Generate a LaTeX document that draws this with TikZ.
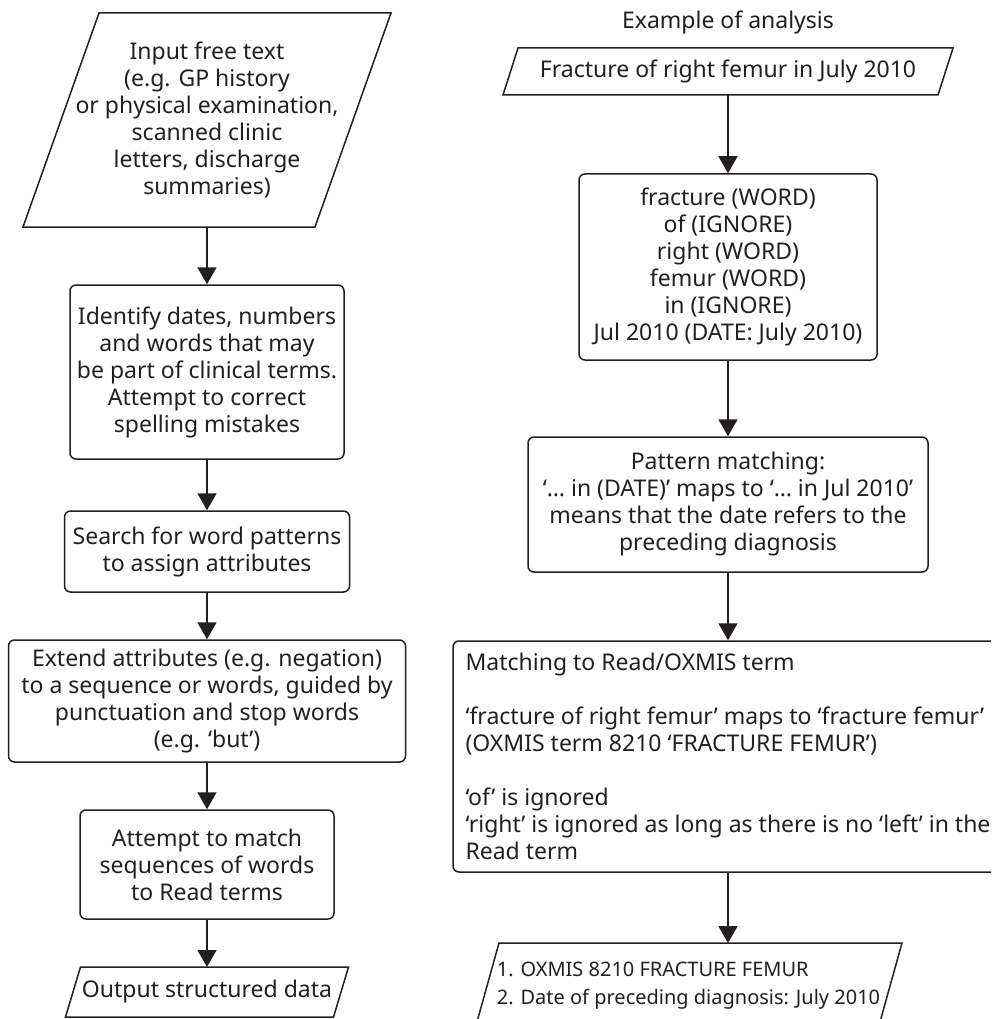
\documentclass[tikz,border=0pt]{standalone}
\usepackage{fontspec}
\setmainfont{Noto Sans}
\usetikzlibrary{arrows.meta,calc}
\definecolor{ink}{HTML}{231F20}
\newcommand\drawpara[2]{\draw[pline] ($(#1.north west)+(#2/2,0)$) -- ($(#1.north east)+(#2/2,0)$) -- ($(#1.south east)-(#2/2,0)$) -- ($(#1.south west)-(#2/2,0)$) -- cycle;}
\begin{document}
\begin{tikzpicture}[x=1pt,y=-1pt,
  every node/.style={font=\fontsize{23}{27}\selectfont, text=ink},
  box/.style={draw=ink, line width=1.5pt, rounded corners=6pt, align=center, inner sep=0pt},
  pbox/.style={align=center, inner sep=0pt, outer sep=0pt},
  arr/.style={draw=ink, line width=1.5pt, -{Triangle[length=17pt,width=19pt]}},
  pline/.style={draw=ink, line width=1.5pt, line join=miter}
]
\useasboundingbox (0,0) rectangle (991,1019);
\clip (0,0) rectangle (991,1019);

% left column
\node[pbox, minimum width=292pt, minimum height=214pt] (l1) at (207,120)
  {Input free text\\(e.g. GP history\\or physical examination,\\scanned clinic\\letters, discharge\\summaries)};
\drawpara{l1}{76}
\node[box, minimum width=274pt, minimum height=174pt] (l2) at (207,372)
  {Identify dates, numbers\\and words that may\\be part of clinical terms.\\Attempt to correct\\spelling mistakes};
\node[box, minimum width=285pt, minimum height=81pt] (l3) at (207,551.5)
  {Search for word patterns\\to assign attributes};
\node[box, minimum width=397pt, minimum height=122pt] (l4) at (207,701)
  {Extend attributes (e.g. negation)\\to a sequence or words, guided by\\punctuation and stop words\\(e.g. ‘but’)};
\node[box, minimum width=254pt, minimum height=109pt] (l5) at (207,864.5)
  {Attempt to match\\sequences of words\\to Read terms};
\node[pbox, minimum width=268pt, minimum height=50pt] (l6) at (207,992)
  {Output structured data};
\drawpara{l6}{15}

\draw[arr] (l1.south) -- (l2.north);
\draw[arr] (l2.south) -- (l3.north);
\draw[arr] (l3.south) -- (l4.north);
\draw[arr] (l4.south) -- (l5.north);
\draw[arr] (l5.south) -- (l6.north);

% right column
\node (title) at (728,22) {Example of analysis};
\node[pbox, minimum width=435pt, minimum height=47pt] (r1) at (728,71.5)
  {Fracture of right femur in July 2010};
\drawpara{r1}{15}
\node[box, minimum width=298pt, minimum height=186pt] (r2) at (728,267)
  {fracture (WORD)\\of (IGNORE)\\right (WORD)\\femur (WORD)\\in (IGNORE)\\Jul 2010 (DATE: July 2010)};
\node[box, minimum width=400pt, minimum height=135pt] (r3) at (728,504.5)
  {Pattern matching:\\‘… in (DATE)’ maps to ‘… in Jul 2010’\\means that the date refers to the\\preceding diagnosis};
\node[box, align=left, minimum width=550pt, minimum height=231pt] (r4) at (728,756.5)
  {Matching to Read/OXMIS term\\[27pt]‘fracture of right femur’ maps to ‘fracture femur’\\(OXMIS term 8210 ‘FRACTURE FEMUR’)\\[27pt]‘of’ is ignored\\‘right’ is ignored as long as there is no ‘left’ in the\\Read term};
\node[pbox, align=left, minimum width=403pt, minimum height=86pt,
      font=\fontsize{20}{28}\selectfont] (r5) at (688.5,986)
  {1. OXMIS 8210 FRACTURE FEMUR\\2. Date of preceding diagnosis: July 2010};
\drawpara{r5}{24}

\draw[arr] (r1.south) -- (r2.north);
\draw[arr] (r2.south) -- (r3.north);
\draw[arr] (r3.south) -- (r4.north);
\draw[arr] (r4.south) -- (r4.south |- r5.north);
\end{tikzpicture}
\end{document}
